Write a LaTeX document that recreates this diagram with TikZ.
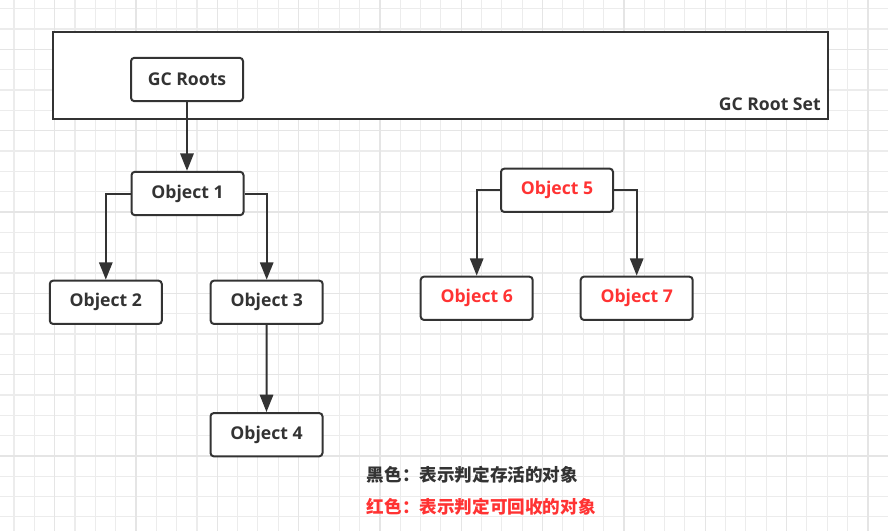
\documentclass[tikz,border=0pt]{standalone}
\usepackage{fontspec}
\setmainfont{Open Sans}
\newfontfamily\cjk{Noto Sans CJK SC}
\usepackage{tikz}
\usetikzlibrary{positioning,calc,arrows.meta}
\definecolor{darkline}{RGB}{51,51,51}
\definecolor{deadred}{RGB}{255,51,51}
\definecolor{gridlight}{RGB}{236,236,236}
\definecolor{gridmajor}{RGB}{229,229,229}

\begin{document}
\begin{tikzpicture}[x=0.75pt,y=-0.75pt,
    objbox/.style={draw=darkline, line width=1.5pt, rounded corners=2.5pt, fill=white,
      minimum width=84pt, minimum height=32.5pt, inner sep=0pt,
      font=\fontsize{13.2}{15}\selectfont\bfseries, text=darkline},
    deadbox/.style={objbox, text=deadred},
    link/.style={draw=darkline, line width=1.5pt, -{Triangle[length=13pt,width=10pt]}},
    legend/.style={anchor=west, inner sep=0pt, font=\cjk\fontsize{13.2}{15}\selectfont\bfseries}]
    \useasboundingbox (0,0) rectangle (888,531);
    \fill[white] (0,0) rectangle (888,531);

    % background grid
    \foreach \i in {0,...,43}
      \draw[gridlight, line width=0.8pt] ({14+20.33*\i},0) -- ({14+20.33*\i},531);
    \foreach \j in {0,...,25}
      \draw[gridlight, line width=0.8pt] (0,{8.7+20.33*\j}) -- (888,{8.7+20.33*\j});
    \foreach \i in {0,...,10}
      \draw[gridmajor, line width=0.9pt] ({54.7+81.33*\i},0) -- ({54.7+81.33*\i},531);
    \foreach \j in {0,...,5}
      \draw[gridmajor, line width=0.9pt] (0,{49.3+81.33*\j}) -- (888,{49.3+81.33*\j});

    % root set
    \draw[darkline, line width=1.8pt, fill=white] (53,32) rectangle (828,119);
    \node[anchor=east, inner sep=0pt, font=\fontsize{13.2}{15}\selectfont\bfseries, text=darkline]
      (setlabel) at (821,104) {GC Root Set};

    \node[objbox] (roots) at (187,79.5) {GC Roots};

    % reachable objects
    \node[objbox] (obj1) at (187.5,193.5) {Object 1};
    \node[objbox] (obj2) at (105.8,302.3) {Object 2};
    \node[objbox] (obj3) at (266.7,302.3) {Object 3};
    \node[objbox] (obj4) at (266.5,434.7) {Object 4};

    % unreachable objects
    \node[deadbox] (obj5) at (557,190.3) {Object 5};
    \node[deadbox] (obj6) at (476.7,298.3) {Object 6};
    \node[deadbox] (obj7) at (636.7,298.3) {Object 7};

    \draw[link] (roots.south) -- (roots.south |- obj1.north);
    \draw[link] (obj1.west) -| (obj2.north);
    \draw[link] (obj1.east) -| (obj3.north);
    \draw[link] (obj3.south) -- (obj4.north);
    \draw[link] (obj5.west) -| (obj6.north);
    \draw[link] (obj5.east) -| (obj7.north);

    % legend
    \node[legend, text=darkline] (alive) at (366.7,475) {黑色：表示判定存活的对象};
    \node[legend, text=deadred] (dead) at (366.7,506.7) {红色：表示判定可回收的对象};
\end{tikzpicture}
\end{document}
